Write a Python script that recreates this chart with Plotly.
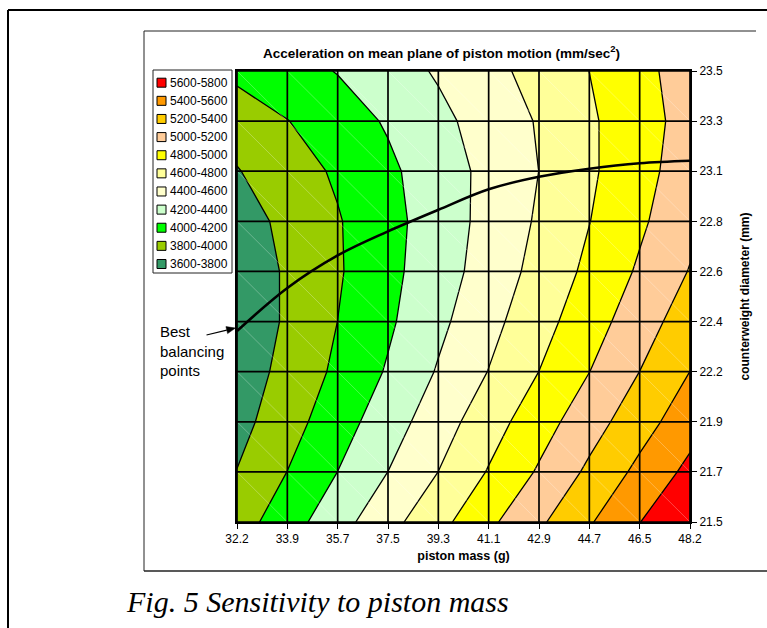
import plotly.graph_objects as go

# ---------------- data ----------------
mass_labels = ["32.2", "33.9", "35.7", "37.5", "39.3", "41.1", "42.9", "44.7", "46.5", "48.2"]
diam_labels = ["21.5", "21.7", "21.9", "22.2", "22.4", "22.6", "22.8", "23.1", "23.3", "23.5"]

# acceleration (mm/sec^2); rows = counterweight diameter (bottom 21.5 -> top 23.5), cols = piston mass
accel_215 = [3908, 4113, 4324, 4535, 4738, 4959, 5167, 5381, 5596, 5790]
accel_217 = [3805, 4002, 4201, 4401, 4601, 4813, 5022, 5238, 5450, 5651]
accel_219 = [3731, 3920, 4112, 4307, 4508, 4713, 4914, 5115, 5316, 5518]
accel_222 = [3686, 3862, 4038, 4219, 4417, 4605, 4801, 4998, 5201, 5401]
accel_224 = [3653, 3827, 4001, 4169, 4355, 4539, 4726, 4914, 5107, 5305]
accel_226 = [3670, 3824, 3979, 4147, 4312, 4483, 4664, 4844, 5026, 5210]
accel_228 = [3711, 3848, 3985, 4138, 4297, 4460, 4625, 4796, 4968, 5145]
accel_231 = [3790, 3907, 4028, 4162, 4305, 4452, 4601, 4768, 4934, 5099]
accel_233 = [3884, 3995, 4107, 4220, 4351, 4482, 4616, 4771, 4922, 5073]
accel_235 = [4050, 4128, 4208, 4313, 4421, 4542, 4669, 4801, 4945, 5089]

# best balancing counterweight (as position on the diameter category axis) for each piston mass
best_pos = [3.81, 4.67, 5.32, 5.80, 6.23, 6.64, 6.89, 7.05, 7.16, 7.21]

band_labels = ["3600-3800", "3800-4000", "4000-4200", "4200-4400", "4400-4600", "4600-4800",
               "4800-5000", "5000-5200", "5200-5400", "5400-5600", "5600-5800"]
band_colors = ["#339966", "#99CC00", "#00FF00", "#CCFFCC", "#FFFFCC", "#FFFF99",
               "#FFFF00", "#FFCC99", "#FFCC00", "#FF9900", "#FF0000"]
level_start, level_end, level_step = 3600, 5800, 200

# ---------------- figure geometry ----------------
W, H = 767, 628
PL, PR, PT, PB = 237, 690, 71, 522  # plot area in pixels


def px(x):
    return (x - PL) / (PR - PL)


def py(y):
    return (PB - y) / (PB - PT)


z = [accel_215, accel_217, accel_219, accel_222, accel_224,
     accel_226, accel_228, accel_231, accel_233, accel_235]
nx, ny = len(mass_labels), len(diam_labels)
xs = list(range(nx))
ys = list(range(ny))

# step colorscale so that each band gets its own flat colour
nlev = (level_end - level_start) // level_step + 1
span = nlev * level_step
base = level_start - level_step / 2
cscale = []
for k, col in enumerate(band_colors):
    lo = 0.0 if k == 0 else (level_start + k * level_step - base) / span
    hi = 1.0 if k == len(band_colors) - 1 else (level_start + (k + 1) * level_step - base) / span
    cscale.append([lo, col])
    cscale.append([hi, col])

fig = go.Figure()
fig.add_trace(go.Contour(
    x=xs, y=ys, z=z,
    autocontour=False,
    contours=dict(start=level_start, end=level_end, size=level_step, coloring="fill", showlines=True),
    line=dict(color="black", width=1.3, smoothing=0),
    colorscale=cscale, showscale=False, hoverinfo="skip",
))

# faint cell diagonals
dx, dy = [], []
for c in range(nx - 1):
    for r in range(ny - 1):
        dx += [c, c + 1, None]
        dy += [r + 1, r, None]
fig.add_trace(go.Scatter(x=dx, y=dy, mode="lines", line=dict(color="rgba(255,255,255,0.35)", width=0.8),
                         hoverinfo="skip", showlegend=False))

# grid lines
gx, gy = [], []
for c in range(nx):
    gx += [c, c, None]
    gy += [0, ny - 1, None]
for r in range(ny):
    gx += [0, nx - 1, None]
    gy += [r, r, None]
fig.add_trace(go.Scatter(x=gx, y=gy, mode="lines", line=dict(color="black", width=1.7),
                         hoverinfo="skip", showlegend=False))

# best balancing curve
fig.add_trace(go.Scatter(x=xs, y=best_pos, mode="lines",
                         line=dict(color="black", width=2.6, shape="spline", smoothing=1),
                         hoverinfo="skip", showlegend=False, cliponaxis=False))

font_sans = "Liberation Sans, Arial, sans-serif"

fig.update_layout(
    width=W, height=H, autosize=False,
    margin=dict(l=PL, r=W - PR, t=PT, b=H - PB, pad=0),
    paper_bgcolor="white", plot_bgcolor="white",
    showlegend=False,
    font=dict(family=font_sans, size=12, color="black"),
    xaxis=dict(range=[0, nx - 1], tickmode="array", tickvals=xs, ticktext=mass_labels,
               ticks="outside", ticklen=5, tickwidth=1, tickcolor="black",
               showgrid=False, zeroline=False, showline=True, linecolor="black", linewidth=2,
               mirror=True, layer="above traces", tickfont=dict(size=12),
               title=dict(text="<b>piston mass (g)</b>", standoff=6, font=dict(size=12.5))),
    yaxis=dict(range=[0, ny - 1], tickmode="array", tickvals=ys, ticktext=diam_labels, side="right",
               ticks="outside", ticklen=5, tickwidth=1, tickcolor="black",
               showgrid=False, zeroline=False, showline=True, linecolor="black", linewidth=2,
               mirror=True, layer="above traces", tickfont=dict(size=12),
               title=dict(text="<b>counterweight diameter (mm)</b>", standoff=19, font=dict(size=12))),
)

shapes = []
ann = []

# outer frame and chart area border
shapes.append(dict(type="line", xref="paper", yref="paper", x0=px(8), y0=py(10), x1=px(W + 10), y1=py(10),
                   line=dict(color="black", width=2)))
shapes.append(dict(type="line", xref="paper", yref="paper", x0=px(8), y0=py(10), x1=px(8), y1=py(H + 10),
                   line=dict(color="black", width=2)))
shapes.append(dict(type="line", xref="paper", yref="paper", x0=px(144), y0=py(31), x1=px(756), y1=py(31),
                   line=dict(color="#222222", width=1)))
shapes.append(dict(type="line", xref="paper", yref="paper", x0=px(144), y0=py(31), x1=px(144), y1=py(571),
                   line=dict(color="#222222", width=1)))
shapes.append(dict(type="line", xref="paper", yref="paper", x0=px(144), y0=py(571), x1=px(W + 10), y1=py(571),
                   line=dict(color="#222222", width=1.5)))

# legend (drawn manually, top = highest band)
LX0, LX1, LY0, LY1 = 153, 232, 70, 273
shapes.append(dict(type="rect", xref="paper", yref="paper", x0=px(LX0), x1=px(LX1), y0=py(LY1), y1=py(LY0),
                   line=dict(color="#222222", width=1), fillcolor="white"))
order = list(range(len(band_labels)))[::-1]
for i, k in enumerate(order):
    cy = 82.7 + 18.13 * i
    shapes.append(dict(type="rect", xref="paper", yref="paper", x0=px(157), x1=px(166),
                       y0=py(cy + 4.5), y1=py(cy - 4.5), line=dict(color="black", width=1),
                       fillcolor=band_colors[k]))
    ann.append(dict(xref="paper", yref="paper", x=px(168), y=py(cy), text=band_labels[k],
                    showarrow=False, xanchor="left", yanchor="middle", font=dict(size=12)))

# titles
ann.append(dict(xref="paper", yref="paper", x=px(441), y=py(52),
                text="<b>Acceleration on mean plane of piston motion (mm/sec<sup>2</sup>)</b>",
                showarrow=False, xanchor="center", yanchor="middle", font=dict(size=13.5)))
ann.append(dict(xref="paper", yref="paper", x=px(124), y=py(601), text="<i>Fig. 5 Sensitivity to piston mass</i>",
                showarrow=False, xanchor="left", yanchor="middle",
                font=dict(size=30, family="Liberation Serif, Times New Roman, serif")))

# best balancing callout text
ann.append(dict(xref="paper", yref="paper", x=px(158), y=py(351), text="Best<br>balancing<br>points",
                showarrow=False, xanchor="left", yanchor="middle", align="left", font=dict(size=15)))

# callout arrow (line + filled head), pixel geometry converted to paper space
tail = (206.5, 335.0)
tip = (235.5, 328.0)
vx, vy = tip[0] - tail[0], tip[1] - tail[1]
ln = (vx ** 2 + vy ** 2) ** 0.5
ux, uy = vx / ln, vy / ln
hl, hw = 9.0, 3.6
bx, by = tip[0] - hl * ux, tip[1] - hl * uy
c1 = (bx - hw * uy, by + hw * ux)
c2 = (bx + hw * uy, by - hw * ux)
shapes.append(dict(type="line", xref="paper", yref="paper", x0=px(tail[0]), y0=py(tail[1]),
                   x1=px(bx), y1=py(by), line=dict(color="black", width=1.2)))
shapes.append(dict(type="path", xref="paper", yref="paper",
                   path="M {} {} L {} {} L {} {} Z".format(px(tip[0]), py(tip[1]), px(c1[0]), py(c1[1]),
                                                          px(c2[0]), py(c2[1])),
                   fillcolor="black", line=dict(color="black", width=0.5)))

fig.update_layout(shapes=shapes, annotations=ann)
fig.write_html("out.html")
